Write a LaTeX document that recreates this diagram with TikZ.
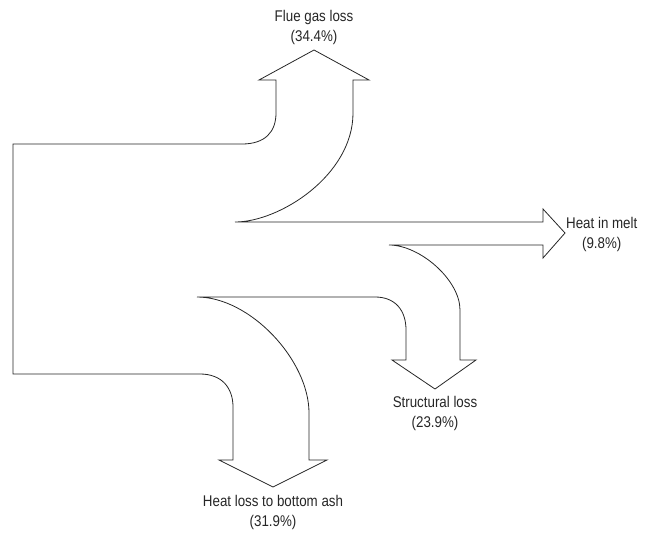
\documentclass[tikz,border=0pt]{standalone}
\usepackage{fontspec}
\setmainfont[FakeStretch=0.86]{Liberation Sans}
\begin{document}
\begin{tikzpicture}[x=1pt,y=-1pt,
  flow/.style={draw=black!85,line width=0.8pt,line join=miter},
  lbl/.style={align=center,font=\fontsize{15.5}{20}\selectfont,text=black!85,inner sep=0pt}]
\useasboundingbox (0,0) rectangle (650,535);
\draw[flow]
  (242,144) -- (13,144) -- (13,374) -- (200,374)
  .. controls (222,374) and (233,388) .. (233,407)
  -- (233,460) -- (219,460) -- (273,487) -- (327,460) -- (309,460) -- (309,413)
  .. controls (309,360) and (250,297) .. (197,297)
  -- (375,297)
  .. controls (395,297) and (406,310) .. (406,330)
  -- (406,360) -- (392,360) -- (435,389) -- (476,360) -- (460,360) -- (460,310)
  .. controls (460,280) and (420,245) .. (389,245)
  -- (543,245) -- (543,258) -- (565,233) -- (543,209) -- (543,222) -- (235,222)
  .. controls (280,222) and (353,175) .. (353,113)
  -- (353,80) -- (369,80) -- (314,50) -- (259,80) -- (276,80) -- (276,113)
  .. controls (276,132) and (265,144) .. cycle;
\node[lbl] (flue) at (314,27) {Flue gas loss\\(34.4\%)};
\node[lbl,anchor=west] (melt) at (566,234) {Heat in melt\\(9.8\%)};
\node[lbl] (struct) at (435,413) {Structural loss\\(23.9\%)};
\node[lbl] (ash) at (273,512) {Heat loss to bottom ash\\(31.9\%)};
\end{tikzpicture}
\end{document}
